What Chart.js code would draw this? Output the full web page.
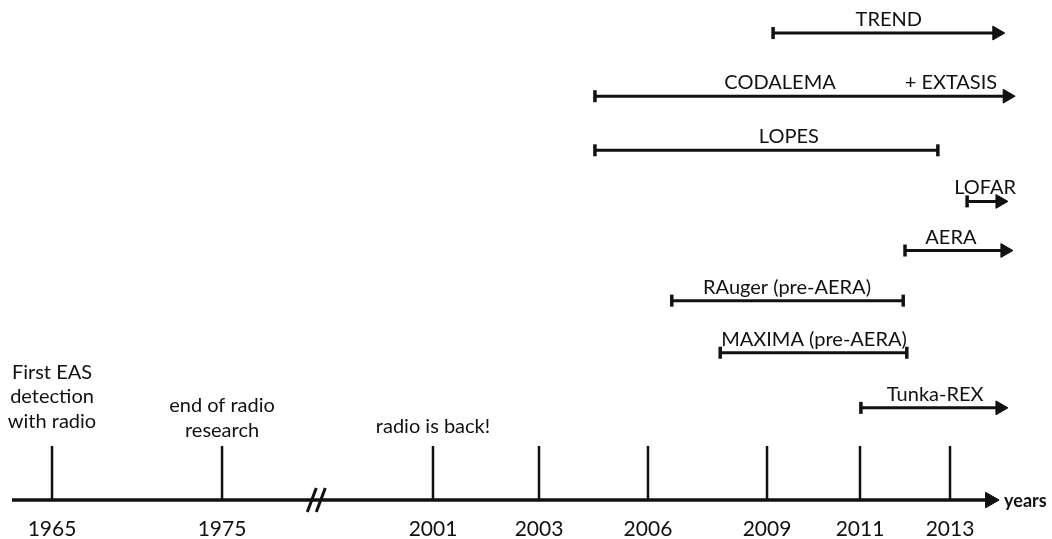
<!DOCTYPE html>
<html>
<head>
<meta charset="utf-8">
<script src="https://cdn.jsdelivr.net/npm/chart.js@4.4.0/dist/chart.umd.min.js"></script>
<style>
  html, body { margin: 0; padding: 0; background: #fff; }
  #wrap { width: 1052px; height: 539px; }
</style>
</head>
<body>
<div id="wrap"><canvas id="timeline"></canvas></div>
<script>
// axis: years with their place on the (non-linear) drawn axis, 0..100
const tickYears = [1965, 1975, 2001, 2003, 2006, 2009, 2011, 2013];
const tickSlots = [4.05, 21.26, 42.61, 53.34, 64.37, 76.42, 85.83, 94.94];
const breakSlot = 30.8;
const axisEndSlot = 99;
const tickHeight = 1.08;

// experiments
const experiments = ["TREND", "CODALEMA", "LOPES", "LOFAR", "AERA",
  "RAuger (pre-AERA)", "MAXIMA (pre-AERA)", "Tunka-REX"];
const startYears = [2009.13, 2004.54, 2004.54, 2013.38, 2012.0, 2006.6, 2007.82, 2011.02];
const endYears = [2014.04, 2014.27, 2012.73, 2014.11, 2014.22, 2011.96, 2012.04, 2014.11];
const ongoing = [true, true, false, true, true, false, false, true];
const rowLevels = [9.32, 8.06, 6.98, 5.96, 4.98, 3.98, 2.94, 1.84];
const labelYears = [2011.64, 2009.28, 2009.47, 2013.78, 2013.02, 2009.43, 2010.01, 2012.67];

const noteTexts = ["+ EXTASIS"];
const noteYears = [2013.02];
const noteRows = [1];

// milestones
const eventYears = [1965, 1975, 2001];
const eventTexts = [["First EAS", "detection", "with radio"], ["end of radio", "research"], ["radio is back!"]];
const eventTextLevels = [1.44, 1.26, 1.34];

const INK = "#111111";
const FONT = "Lato, 'Open Sans', sans-serif";

function yearToAxis(year) {
  const n = tickYears.length;
  let i = 0;
  while (i < n - 2 && year > tickYears[i + 1]) i++;
  const slope = (tickSlots[i + 1] - tickSlots[i]) / (tickYears[i + 1] - tickYears[i]);
  return tickSlots[i] + (year - tickYears[i]) * slope;
}

const datasets = [];

// main time axis with arrow
datasets.push({
  data: [{ x: 0, y: 0 }, { x: axisEndSlot, y: 0 }],
  borderWidth: 3.5,
  pointStyle: ["line", "triangle"],
  pointRotation: [0, 90],
  pointRadius: [0, 9],
  pointBorderWidth: 1,
});

// tick marks
tickSlots.forEach((slot) => {
  datasets.push({
    data: [{ x: slot, y: 0 }, { x: slot, y: tickHeight }],
    borderWidth: 2.5,
    pointRadius: 0,
  });
});

// experiment bars
experiments.forEach((name, i) => {
  datasets.push({
    label: name,
    data: [
      { x: yearToAxis(startYears[i]), y: rowLevels[i] },
      { x: yearToAxis(endYears[i]), y: rowLevels[i] },
    ],
    borderWidth: 3,
    pointStyle: ["line", ongoing[i] ? "triangle" : "line"],
    pointRotation: [90, 90],
    pointRadius: [6, ongoing[i] ? 8 : 6],
    pointBorderWidth: [3.5, ongoing[i] ? 1 : 3.5],
  });
});

datasets.forEach((ds) => {
  ds.showLine = true;
  ds.clip = false;
  ds.borderColor = INK;
  ds.backgroundColor = INK;
  ds.pointBackgroundColor = INK;
  ds.pointBorderColor = INK;
  ds.pointHoverRadius = ds.pointRadius;
});

const textPlugin = {
  id: "timelineText",
  afterDatasetsDraw(chart) {
    const ctx = chart.ctx;
    const x = chart.scales.x;
    const y = chart.scales.y;
    ctx.save();
    ctx.fillStyle = INK;
    ctx.textAlign = "center";
    ctx.textBaseline = "alphabetic";
    ctx.font = "20px " + FONT;

    experiments.forEach((name, i) => {
      ctx.fillText(name, x.getPixelForValue(yearToAxis(labelYears[i])), y.getPixelForValue(rowLevels[i]) - 7);
    });
    noteTexts.forEach((t, i) => {
      ctx.fillText(t, x.getPixelForValue(yearToAxis(noteYears[i])), y.getPixelForValue(rowLevels[noteRows[i]]) - 7);
    });

    eventYears.forEach((yr, i) => {
      const lines = eventTexts[i];
      const base = y.getPixelForValue(eventTextLevels[i]);
      lines.forEach((line, j) => {
        ctx.fillText(line, x.getPixelForValue(yearToAxis(yr)), base - (lines.length - 1 - j) * 24.5);
      });
    });

    // axis break
    const bx = x.getPixelForValue(breakSlot);
    const by = y.getPixelForValue(0);
    ctx.strokeStyle = INK;
    ctx.lineWidth = 3;
    [-4.5, 4.5].forEach((dx) => {
      ctx.beginPath();
      ctx.moveTo(bx + dx - 4.5, by + 12);
      ctx.lineTo(bx + dx + 4.5, by - 12);
      ctx.stroke();
    });

    // axis title
    const tip = x.getPixelForValue(axisEndSlot) + 9;
    ctx.textAlign = "left";
    ctx.textBaseline = "middle";
    ctx.font = "bold 18px " + FONT;
    ctx.fillText("years", tip + 5, by + 1);
    ctx.restore();
  },
};

new Chart(document.getElementById("timeline"), {
  type: "scatter",
  data: { datasets },
  plugins: [textPlugin],
  options: {
    responsive: true,
    maintainAspectRatio: false,
    animation: false,
    events: [],
    layout: {
      padding: { left: 12, right: 52, top: 0, bottom: 0 },
    },
    plugins: {
      legend: { display: false },
      tooltip: { enabled: false },
    },
    scales: {
      x: {
        type: "linear",
        min: 0,
        max: 100,
        afterBuildTicks: (scale) => {
          scale.ticks = tickSlots.map((v) => ({ value: v }));
        },
        ticks: {
          color: INK,
          padding: 0,
          maxRotation: 0,
          autoSkip: false,
          font: { family: FONT, size: 21, lineHeight: 0.9 },
          callback: (value) => {
            const i = tickSlots.indexOf(value);
            return i >= 0 ? String(tickYears[i]) : "";
          },
        },
        grid: { display: false, drawTicks: false },
        border: { display: false },
      },
      y: {
        type: "linear",
        display: false,
        min: -0.4,
        max: 9.78,
      },
    },
  },
});
</script>
</body>
</html>
